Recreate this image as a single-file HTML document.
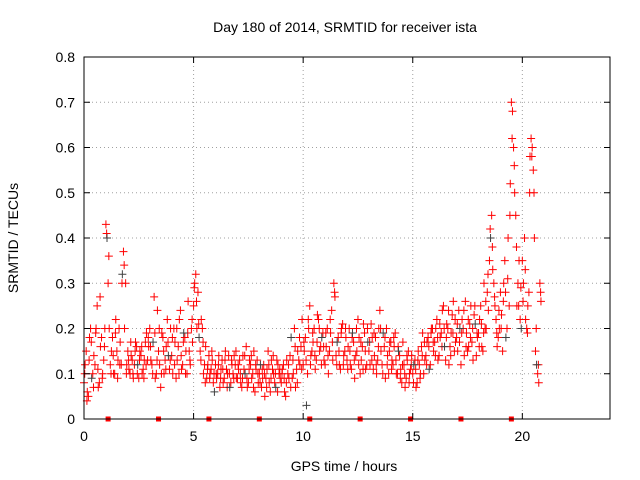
<!DOCTYPE html>
<html><head><meta charset="utf-8"><style>
body{margin:0;background:#fff}
svg{display:block;font-family:"Liberation Sans",sans-serif}
</style></head><body>
<svg id="chart" width="640" height="480">
<rect width="640" height="480" fill="#fff"/>
<g id="grid"></g>
<g id="marks"></g>
<rect x="84" y="57" width="526" height="362" fill="none" stroke="#000" stroke-width="1"/>
<g id="axes"></g>
<text x="345" y="32" text-anchor="middle" font-size="14">Day 180 of 2014, SRMTID for receiver ista</text>
<text x="344" y="471" text-anchor="middle" font-size="14">GPS time / hours</text>
<text transform="translate(18,238) rotate(-90)" text-anchor="middle" font-size="14">SRMTID / TECUs</text>
</svg>
<script>
const xTicks=[0,5,10,15,20];
const yTicks=[0,0.1,0.2,0.3,0.4,0.5,0.6,0.7,0.8];
const yTickLabels=["0","0.1","0.2","0.3","0.4","0.5","0.6","0.7","0.8"];
const seriesA=[0.08,0.15,0.05,0.2,0.1,0.12,0.25,0.08,0.18,0.13,
0.43,0.3,0.12,0.18,0.1,0.15,0.2,0.12,0.37,0.3,
0.15,0.1,0.13,0.12,0.16,0.09,0.14,0.11,0.17,0.13,
0.2,0.12,0.27,0.1,0.15,0.07,0.18,0.13,0.22,0.11,
0.14,0.2,0.09,0.16,0.24,0.12,0.18,0.1,0.15,0.2,
0.25,0.32,0.28,0.15,0.2,0.12,0.09,0.14,0.11,0.08,
0.12,0.1,0.07,0.13,0.09,0.11,0.14,0.08,0.1,0.12,
0.09,0.13,0.07,0.11,0.16,0.08,0.12,0.1,0.06,0.13,
0.1,0.07,0.12,0.09,0.15,0.06,0.11,0.08,0.13,0.1,
0.08,0.12,0.05,0.1,0.14,0.09,0.2,0.11,0.13,0.16,
0.12,0.18,0.1,0.25,0.15,0.2,0.13,0.22,0.16,0.19,
0.12,0.2,0.15,0.24,0.3,0.14,0.18,0.11,0.21,0.15,
0.13,0.2,0.11,0.17,0.14,0.22,0.1,0.16,0.19,0.12,
0.15,0.21,0.11,0.18,0.13,0.24,0.12,0.16,0.2,0.1,
0.17,0.12,0.19,0.1,0.14,0.08,0.12,0.09,0.15,0.11,
0.1,0.13,0.08,0.12,0.16,0.1,0.14,0.18,0.12,0.2,
0.17,0.22,0.14,0.19,0.25,0.13,0.2,0.16,0.23,0.15,
0.18,0.24,0.12,0.2,0.26,0.15,0.21,0.17,0.23,0.14,
0.19,0.25,0.15,0.2,0.28,0.35,0.45,0.3,0.22,0.18,
0.28,0.15,0.35,0.2,0.25,0.7,0.6,0.45,0.3,0.22,
0.35,0.4,0.2,0.28,0.62,0.55,0.15,0.1,0.3];
const seriesB=[0.12,0.06,0.18,0.09,0.14,0.2,0.07,0.16,0.1,0.2,
0.4,0.2,0.15,0.1,0.22,0.13,0.17,0.32,0.2,0.12,
0.11,0.14,0.09,0.17,0.12,0.15,0.1,0.13,0.19,0.16,
0.13,0.17,0.09,0.24,0.12,0.19,0.1,0.16,0.14,0.2,
0.1,0.17,0.13,0.22,0.11,0.19,0.15,0.26,0.12,0.17,
0.3,0.2,0.18,0.22,0.1,0.16,0.12,0.1,0.13,0.06,
0.09,0.14,0.11,0.08,0.15,0.1,0.07,0.12,0.14,0.09,
0.11,0.08,0.14,0.1,0.07,0.13,0.09,0.15,0.11,0.08,
0.12,0.09,0.05,0.11,0.08,0.13,0.1,0.07,0.12,0.09,
0.11,0.06,0.13,0.09,0.18,0.1,0.07,0.15,0.12,0.22,
0.15,0.03,0.2,0.14,0.17,0.11,0.23,0.15,0.18,0.13,
0.16,0.1,0.19,0.13,0.27,0.17,0.12,0.2,0.14,0.18,
0.16,0.12,0.19,0.09,0.15,0.18,0.13,0.21,0.11,0.17,
0.12,0.18,0.14,0.1,0.2,0.15,0.19,0.09,0.14,0.17,
0.13,0.16,0.1,0.15,0.11,0.17,0.07,0.13,0.1,0.14,
0.12,0.07,0.15,0.1,0.19,0.13,0.17,0.11,0.2,0.15,
0.2,0.13,0.18,0.24,0.16,0.21,0.12,0.19,0.26,0.17,
0.15,0.2,0.22,0.14,0.19,0.16,0.25,0.13,0.21,0.18,
0.22,0.16,0.3,0.2,0.24,0.4,0.33,0.25,0.16,0.2,
0.23,0.3,0.18,0.4,0.52,0.68,0.5,0.25,0.35,0.2,
0.3,0.22,0.25,0.58,0.6,0.4,0.12,0.08,0.26];
const seriesC=[0.1,0.04,0.13,0.17,0.07,0.19,0.11,0.27,0.09,0.16,
0.41,0.36,0.1,0.14,0.19,0.09,0.12,0.3,0.34,0.1,
0.13,0.17,0.1,0.15,0.1,0.13,0.16,0.09,0.12,0.18,
0.16,0.1,0.19,0.13,0.2,0.1,0.15,0.11,0.17,0.13,
0.18,0.12,0.2,0.1,0.14,0.17,0.1,0.19,0.13,0.22,
0.29,0.26,0.21,0.13,0.17,0.08,0.11,0.09,0.15,0.1,
0.1,0.12,0.09,0.11,0.13,0.07,0.1,0.13,0.09,0.15,
0.12,0.1,0.09,0.14,0.09,0.11,0.14,0.07,0.12,0.1,
0.08,0.11,0.1,0.07,0.12,0.09,0.14,0.1,0.06,0.11,
0.1,0.09,0.08,0.12,0.07,0.13,0.16,0.08,0.18,0.11,
0.17,0.13,0.22,0.12,0.19,0.14,0.17,0.2,0.12,0.16,
0.19,0.14,0.22,0.17,0.28,0.12,0.15,0.19,0.12,0.2,
0.11,0.15,0.18,0.13,0.2,0.12,0.17,0.11,0.15,0.2,
0.17,0.13,0.19,0.12,0.16,0.2,0.1,0.18,0.12,0.15,
0.11,0.18,0.13,0.16,0.09,0.12,0.1,0.14,0.08,0.12,
0.08,0.11,0.13,0.09,0.14,0.17,0.12,0.16,0.19,0.17,
0.14,0.18,0.21,0.16,0.2,0.18,0.24,0.14,0.19,0.22,
0.21,0.17,0.19,0.24,0.16,0.22,0.18,0.2,0.25,0.19,
0.16,0.21,0.19,0.26,0.32,0.42,0.38,0.27,0.19,0.24,
0.2,0.26,0.28,0.31,0.45,0.62,0.56,0.38,0.25,0.29,
0.26,0.33,0.19,0.5,0.58,0.5,0.2,0.12,0.28];
const timeStep=0.1;
const offsetB=0.05;
const offsetC=0.033;
const satMarkers=[1.1,3.4,5.7,8.0,10.3,12.6,14.9,17.2,19.5];

const X0=84,X1=610,Y0=419,Y1=57;
const xs=v=>X0+(v/24)*(X1-X0);
const ys=v=>Y0-(v/0.8)*(Y0-Y1);
const NS="http://www.w3.org/2000/svg";
function mk(tag,attrs,parent){const e=document.createElementNS(NS,tag);for(const k in attrs)e.setAttribute(k,attrs[k]);parent.appendChild(e);return e;}
const grid=document.getElementById('grid'),axes=document.getElementById('axes'),marks=document.getElementById('marks');
xTicks.forEach(t=>{
  const x=xs(t);
  if(t>0){const l=mk('line',{x1:x,x2:x,y1:Y0,y2:Y1,stroke:'#a0a0a0','stroke-dasharray':'1,3'},grid);
  
  }
  mk('line',{x1:x,x2:x,y1:Y0,y2:Y0-6,stroke:'#000'},axes);
  mk('line',{x1:x,x2:x,y1:Y1,y2:Y1+6,stroke:'#000'},axes);
  const tx=mk('text',{x:x,y:Y0+22,'text-anchor':'middle','font-size':14},axes);
  tx.textContent=String(t);
  
  
});
yTicks.forEach((t,i)=>{
  const y=ys(t);
  if(t>0&&t<0.8){const l=mk('line',{x1:X0,x2:X1,y1:y,y2:y,stroke:'#a0a0a0','stroke-dasharray':'1,3'},grid);
  
  }
  mk('line',{x1:X0,x2:X0+6,y1:y,y2:y,stroke:'#000'},axes);
  mk('line',{x1:X1,x2:X1-6,y1:y,y2:y,stroke:'#000'},axes);
  const tx=mk('text',{x:X0-9,y:y+5,'text-anchor':'end','font-size':14},axes);
  tx.textContent=yTickLabels[i];
  
  
});
function plus(t,v,color){
  const x=xs(t),y=ys(v);
  const p=mk('path',{d:`M${x-4},${y}h8M${x},${y-4}v8`,stroke:color,'stroke-width':1,fill:'none'},marks);
  
  
}
seriesA.forEach((v,i)=>plus(i*timeStep,v,'#ff0000'));
seriesC.forEach((v,i)=>plus(i*timeStep+offsetC,v,'#ff0000'));
seriesB.forEach((v,i)=>plus(i*timeStep+offsetB,v,i%7===3?'#404040':'#ff0000'));
satMarkers.forEach(t=>{
  const r=mk('rect',{x:xs(t)-2.5,y:Y0-2.5,width:5,height:5,fill:'#ff0000'},marks);
  
  
});
</script>
</body></html>
